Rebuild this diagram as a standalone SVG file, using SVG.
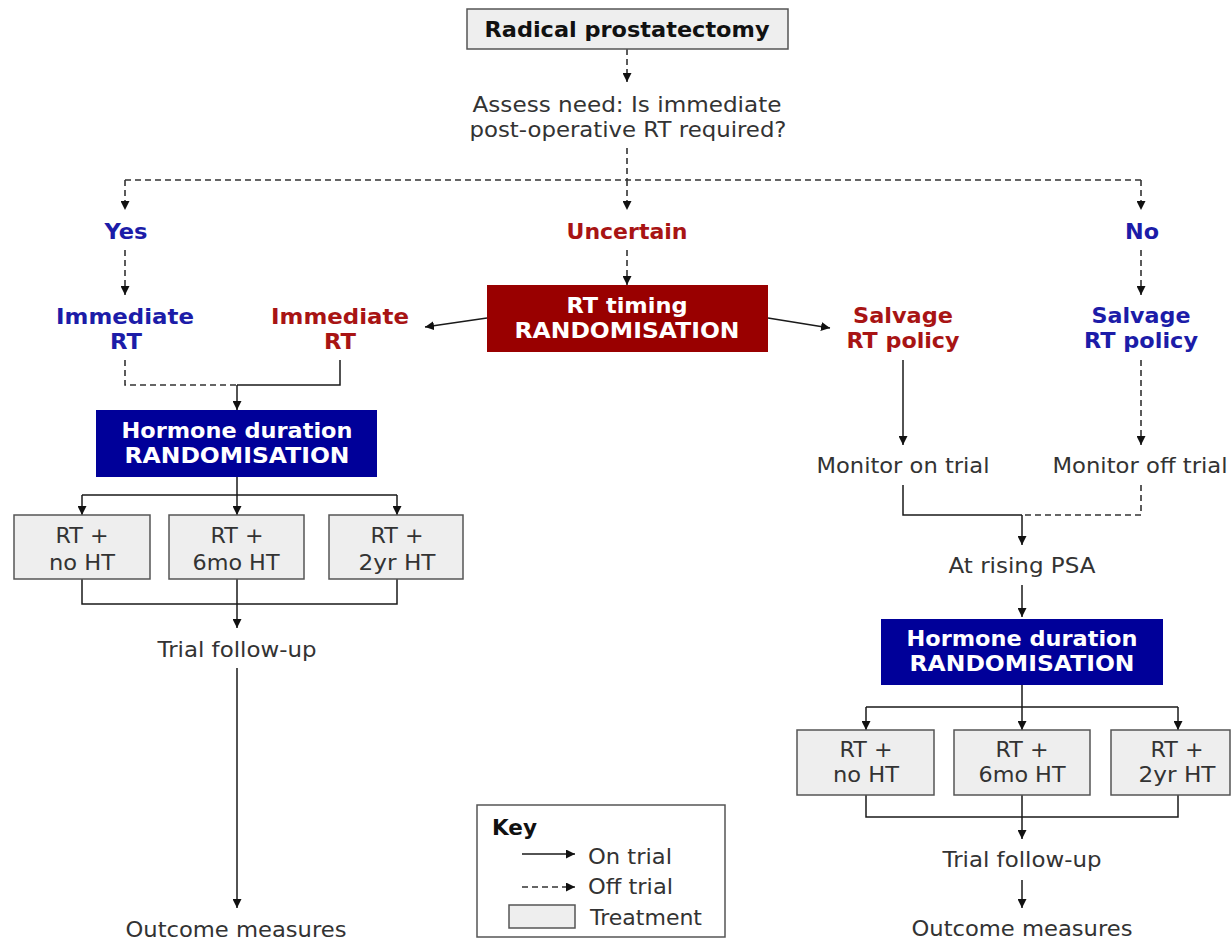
<svg xmlns="http://www.w3.org/2000/svg" width="1231" height="940" viewBox="0 0 1231 940">
<defs>
<marker id="ah" viewBox="0 0 10 10" refX="10" refY="5" markerWidth="9" markerHeight="9" markerUnits="userSpaceOnUse" orient="auto"><path d="M0,0 L10,5 L0,10 z" fill="#111"/></marker>
<style>
text{font-family:"DejaVu Sans","Verdana",sans-serif;font-size:20.5px;text-anchor:middle}
.r{fill:#333}
.b{font-weight:bold}
.blue{fill:#1c1ca8;font-weight:bold}
.red{fill:#a81414;font-weight:bold}
.w{fill:#fff;font-weight:bold}
.tr{fill:#eeeeee;stroke:#555;stroke-width:1.5}
.on{fill:none;stroke:#1a1a1a;stroke-width:1.5}
.off{fill:none;stroke:#333;stroke-width:1.6;stroke-dasharray:6,4}
.arr{marker-end:url(#ah)}
</style>
</defs>
<rect width="1231" height="940" fill="#fff"/>

<g id="connectors">
<path class="off arr" d="M627,49 V82"/>
<path class="off" d="M627,148 V180 M125,180 H1141"/>
<path class="off arr" d="M125,180 V210"/>
<path class="off arr" d="M627,180 V210"/>
<path class="off arr" d="M1141,180 V210"/>
<path class="off arr" d="M125,250 V295"/>
<path class="off arr" d="M627,250 V285"/>
<path class="off arr" d="M1141,250 V295"/>
<path class="on arr" d="M487,318 L425,327"/>
<path class="on arr" d="M768,318 L830,328"/>
<path class="off" d="M125,360 V385 H237"/>
<path class="on" d="M340,360 V385 H237"/>
<path class="on arr" d="M237,385 V410"/>
<path class="on" d="M237,477 V495 M82,495 H397"/>
<path class="on arr" d="M82,495 V515"/>
<path class="on arr" d="M237,495 V515"/>
<path class="on arr" d="M397,495 V515"/>
<path class="on" d="M82,579 V604 H397 V579 M237,579 V604"/>
<path class="on arr" d="M237,604 V628"/>
<path class="on arr" d="M237,668 V908"/>
<path class="on arr" d="M903,360 V445"/>
<path class="off arr" d="M1141,360 V445"/>
<path class="on" d="M903,485 V515 H1022"/>
<path class="off" d="M1141,485 V515 H1022"/>
<path class="on arr" d="M1022,515 V545"/>
<path class="on arr" d="M1022,585 V617"/>
<path class="on" d="M1022,685 V707 M866,707 H1178"/>
<path class="on arr" d="M866,707 V730"/>
<path class="on arr" d="M1022,707 V730"/>
<path class="on arr" d="M1178,707 V730"/>
<path class="on" d="M866,795 V817 H1178 V795 M1022,795 V817"/>
<path class="on arr" d="M1022,817 V839"/>
<path class="on arr" d="M1022,880 V908"/>
</g>

<g id="radical"><rect class="tr" x="467" y="9" width="321" height="40"/><text class="b" x="627" y="37" fill="#111" textLength="285" lengthAdjust="spacingAndGlyphs">Radical prostatectomy</text></g>
<g id="assess"><text class="r" x="627" y="112" textLength="309" lengthAdjust="spacingAndGlyphs">Assess need: Is immediate</text><text class="r" x="628" y="137" textLength="317" lengthAdjust="spacingAndGlyphs">post-operative RT required?</text></g>
<g id="yes"><text class="blue" x="126" y="239" textLength="43" lengthAdjust="spacingAndGlyphs">Yes</text></g>
<g id="uncertain"><text class="red" x="627" y="239" textLength="121" lengthAdjust="spacingAndGlyphs">Uncertain</text></g>
<g id="no"><text class="blue" x="1142" y="239" textLength="34" lengthAdjust="spacingAndGlyphs">No</text></g>
<g id="imm-blue"><text class="blue" x="125" y="324" textLength="138" lengthAdjust="spacingAndGlyphs">Immediate</text><text class="blue" x="126" y="349" textLength="32" lengthAdjust="spacingAndGlyphs">RT</text></g>
<g id="imm-red"><text class="red" x="340" y="324" textLength="138" lengthAdjust="spacingAndGlyphs">Immediate</text><text class="red" x="340" y="349" textLength="32" lengthAdjust="spacingAndGlyphs">RT</text></g>
<g id="rt-timing"><rect x="487" y="285" width="281" height="67" fill="#990000"/><text class="w" x="627" y="313" textLength="121" lengthAdjust="spacingAndGlyphs">RT timing</text><text class="w" x="627" y="338" textLength="225" lengthAdjust="spacingAndGlyphs">RANDOMISATION</text></g>
<g id="salv-red"><text class="red" x="903" y="323" textLength="100" lengthAdjust="spacingAndGlyphs">Salvage</text><text class="red" x="903" y="348" textLength="113" lengthAdjust="spacingAndGlyphs">RT policy</text></g>
<g id="salv-blue"><text class="blue" x="1141" y="323" textLength="99" lengthAdjust="spacingAndGlyphs">Salvage</text><text class="blue" x="1141" y="348" textLength="114" lengthAdjust="spacingAndGlyphs">RT policy</text></g>
<g id="hormone1"><rect x="96" y="410" width="281" height="67" fill="#000099"/><text class="w" x="237" y="438" textLength="231" lengthAdjust="spacingAndGlyphs">Hormone duration</text><text class="w" x="237" y="463" textLength="225" lengthAdjust="spacingAndGlyphs">RANDOMISATION</text></g>
<g id="t1a"><rect class="tr" x="14" y="515" width="136" height="64"/><text class="r" x="82" y="543" textLength="53" lengthAdjust="spacingAndGlyphs">RT +</text><text class="r" x="82" y="570" textLength="66" lengthAdjust="spacingAndGlyphs">no HT</text></g>
<g id="t1b"><rect class="tr" x="169" y="515" width="135" height="64"/><text class="r" x="237" y="543" textLength="53" lengthAdjust="spacingAndGlyphs">RT +</text><text class="r" x="236" y="570" textLength="87" lengthAdjust="spacingAndGlyphs">6mo HT</text></g>
<g id="t1c"><rect class="tr" x="329" y="515" width="134" height="64"/><text class="r" x="397" y="543" textLength="53" lengthAdjust="spacingAndGlyphs">RT +</text><text class="r" x="397" y="570" textLength="77" lengthAdjust="spacingAndGlyphs">2yr HT</text></g>
<g id="fu1"><text class="r" x="237" y="657" textLength="159" lengthAdjust="spacingAndGlyphs">Trial follow-up</text></g>
<g id="om1"><text class="r" x="236" y="937" textLength="221" lengthAdjust="spacingAndGlyphs">Outcome measures</text></g>
<g id="mon-on"><text class="r" x="903" y="473" textLength="173" lengthAdjust="spacingAndGlyphs">Monitor on trial</text></g>
<g id="mon-off"><text class="r" x="1140" y="473" textLength="175" lengthAdjust="spacingAndGlyphs">Monitor off trial</text></g>
<g id="psa"><text class="r" x="1022" y="573" textLength="147" lengthAdjust="spacingAndGlyphs">At rising PSA</text></g>
<g id="hormone2"><rect x="881" y="619" width="282" height="66" fill="#000099"/><text class="w" x="1022" y="646" textLength="231" lengthAdjust="spacingAndGlyphs">Hormone duration</text><text class="w" x="1022" y="671" textLength="225" lengthAdjust="spacingAndGlyphs">RANDOMISATION</text></g>
<g id="t2a"><rect class="tr" x="797" y="730" width="137" height="65"/><text class="r" x="866" y="757" textLength="53" lengthAdjust="spacingAndGlyphs">RT +</text><text class="r" x="866" y="782" textLength="66" lengthAdjust="spacingAndGlyphs">no HT</text></g>
<g id="t2b"><rect class="tr" x="954" y="730" width="136" height="65"/><text class="r" x="1022" y="757" textLength="53" lengthAdjust="spacingAndGlyphs">RT +</text><text class="r" x="1022" y="782" textLength="87" lengthAdjust="spacingAndGlyphs">6mo HT</text></g>
<g id="t2c"><rect class="tr" x="1111" y="730" width="119" height="65"/><text class="r" x="1177" y="757" textLength="53" lengthAdjust="spacingAndGlyphs">RT +</text><text class="r" x="1177" y="782" textLength="77" lengthAdjust="spacingAndGlyphs">2yr HT</text></g>
<g id="fu2"><text class="r" x="1022" y="867" textLength="159" lengthAdjust="spacingAndGlyphs">Trial follow-up</text></g>
<g id="om2"><text class="r" x="1022" y="936" textLength="221" lengthAdjust="spacingAndGlyphs">Outcome measures</text></g>

<g id="key">
<rect x="477" y="805" width="248" height="132" fill="#fff" stroke="#555" stroke-width="1.5"/>
<text class="b" x="492" y="835" fill="#111" style="text-anchor:start" textLength="45" lengthAdjust="spacingAndGlyphs">Key</text>
<path class="on arr" d="M522,854 H575"/>
<text class="r" x="588" y="864" style="text-anchor:start" textLength="84" lengthAdjust="spacingAndGlyphs">On trial</text>
<path class="off arr" d="M522,887 H575"/>
<text class="r" x="588" y="894" style="text-anchor:start" textLength="85" lengthAdjust="spacingAndGlyphs">Off trial</text>
<rect class="tr" x="509" y="905" width="66" height="23"/>
<text class="r" x="590" y="925" style="text-anchor:start" textLength="112" lengthAdjust="spacingAndGlyphs">Treatment</text>
</g>
</svg>
